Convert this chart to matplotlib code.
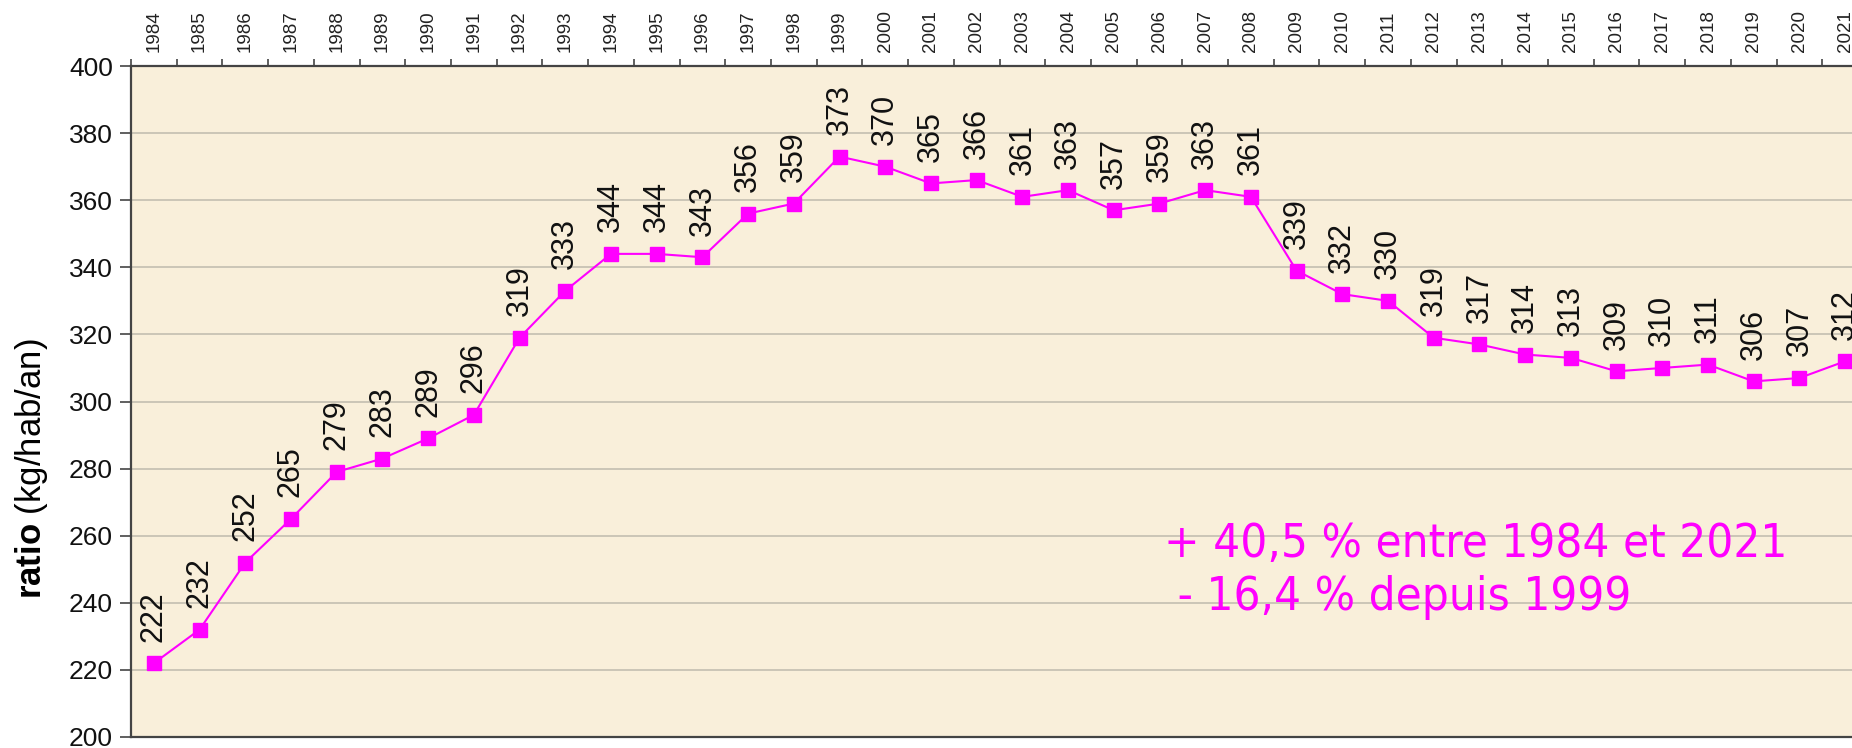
import matplotlib
matplotlib.use("Agg")
import matplotlib.pyplot as plt
import numpy as np

years = list(range(1984, 2022))
ratio = [222, 232, 252, 265, 279, 283, 289, 296, 319, 333, 344, 344, 343, 356,
         359, 373, 370, 365, 366, 361, 363, 357, 359, 363, 361, 339, 332, 330,
         319, 317, 314, 313, 309, 310, 311, 306, 307, 312]
y_ticks = list(range(200, 401, 20))
note_lines = ["+ 40,5 % entre 1984 et 2021", " - 16,4 % depuis 1999"]

MAGENTA = "#FF00FF"
BG = "#F9EFDA"

plt.rcParams["font.family"] = ["Liberation Sans", "DejaVu Sans"]
plt.rcParams["mathtext.fontset"] = "custom"
plt.rcParams["mathtext.bf"] = "Liberation Sans:bold"
plt.rcParams["mathtext.rm"] = "Liberation Sans"

W, H = 1852, 748
fig = plt.figure(figsize=(W / 100, H / 100), dpi=100)
left, right, top, bottom = 131, 1868, 66, 737
ax = fig.add_axes([left / W, (H - bottom) / H, (right - left) / W, (bottom - top) / H])
ax.set_facecolor(BG)

x = np.arange(len(years))
ax.plot(x, ratio, "-", color=MAGENTA, lw=1.5, marker="s", ms=9.5,
        mec=MAGENTA, mfc=MAGENTA, zorder=3)
for xi, v in zip(x, ratio):
    ax.annotate(str(v), (xi, v), xytext=(0, 15.5), textcoords="offset points",
                rotation=90, ha="center", va="bottom", fontsize=22, color="#111111")

ax.set_xlim(-0.5, len(years) - 0.5)
ax.set_ylim(200, 400)
ax.set_yticks(y_ticks)
ax.tick_params(axis="y", labelsize=19, length=8, width=1.2, color="#444444",
               pad=5, labelcolor="#111111")
ax.grid(axis="y", color="#C4BEB0", lw=1.2, zorder=0)

# top axis: ticks on category boundaries, year labels on category centres
ax.xaxis.tick_top()
ax.set_xticks(np.arange(len(years) + 1) - 0.5)
ax.set_xticklabels([])
ax.tick_params(axis="x", which="major", length=5, width=1.2, color="#444444", top=True)
for xi, yr in zip(x, years):
    ax.annotate(str(yr), (xi, 1), xycoords=("data", "axes fraction"),
                xytext=(0, 10), textcoords="offset points", rotation=90,
                ha="center", va="bottom", fontsize=13.5, color="#222222",
                annotation_clip=False)

for side in ["left", "top", "bottom"]:
    ax.spines[side].set_color("#444444")
    ax.spines[side].set_linewidth(1.6)
ax.spines["right"].set_visible(False)

ax.set_ylabel(r"$\mathbf{ratio}$ (kg/hab/an)", fontsize=25)
ax.yaxis.set_label_coords(-(131 - 50) / (right - left), 0.40)

ax.text(22.1, 257.5, note_lines[0], fontsize=34, color=MAGENTA, va="center",
        family="DejaVu Sans", fontstretch="condensed")
ax.text(22.1, 241.5, note_lines[1], fontsize=34, color=MAGENTA, va="center",
        family="DejaVu Sans", fontstretch="condensed")

fig.savefig("out.png", dpi=100)
